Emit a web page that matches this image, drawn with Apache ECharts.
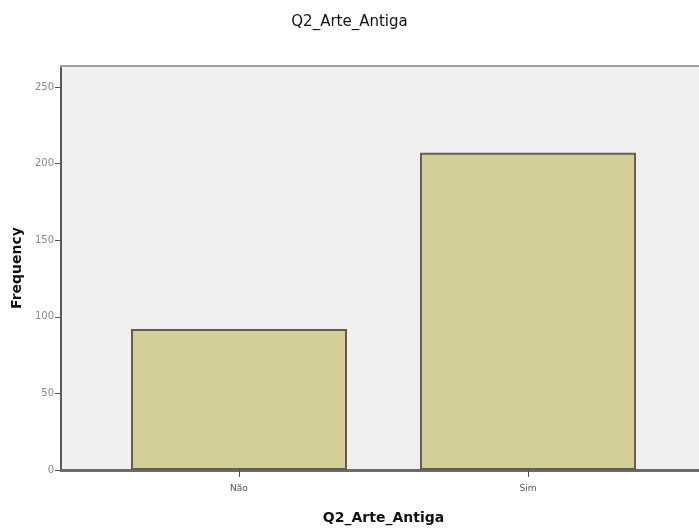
<!DOCTYPE html>
<html><head><meta charset="utf-8">
<script src="https://cdn.jsdelivr.net/npm/echarts@6/dist/echarts.min.js"></script>
<style>html,body{margin:0;padding:0;background:#fff}#c{width:699px;height:531px}</style>
</head><body><div id="c"></div>
<script>
const categories = ['Não', 'Sim'];
const frequencies = [92, 207];
const yTicks = [0, 50, 100, 150, 200, 250];
const chartTitle = 'Q2_Arte_Antiga';
const xTitle = 'Q2_Arte_Antiga';
const yTitle = 'Frequency';

const F = '"DejaVu Sans", Verdana, sans-serif';
const yMax = 263.7;
const chart = echarts.init(document.getElementById('c'));
chart.setOption({
  animation: false,
  title: { text: chartTitle, left: 'center', top: 10,
    textStyle: { fontFamily: F, fontSize: 15, fontWeight: 'normal', color: '#111' } },
  grid: [
    { left: 61, right: 0, top: 66, bottom: 61, show: true, backgroundColor: '#f0f0f0', borderWidth: 0 },
    { left: 94.5, right: 26.5, top: 66, bottom: 61 }
  ],
  xAxis: [
    { gridIndex: 0, type: 'category', data: categories, position: 'bottom',
      axisLine: { show: true, lineStyle: { color: '#6a6a6a', width: 3 } },
      axisTick: { show: false }, axisLabel: { show: false }, splitLine: { show: false } },
    { gridIndex: 0, type: 'category', data: categories, position: 'top',
      axisLine: { show: true, lineStyle: { color: '#a0a0a0', width: 2 } },
      axisTick: { show: false }, axisLabel: { show: false } },
    { gridIndex: 1, type: 'category', data: categories, position: 'bottom',
      axisLine: { show: false },
      axisTick: { show: true, alignWithLabel: true, length: 7, lineStyle: { color: '#555' } },
      axisLabel: { fontFamily: F, fontSize: 9, color: '#555', margin: 14 },
      name: xTitle, nameLocation: 'middle', nameGap: 41,
      nameTextStyle: { fontFamily: F, fontSize: 14, fontWeight: 'bold', color: '#111' } }
  ],
  yAxis: [
    { gridIndex: 0, type: 'value', min: 0, max: yMax, interval: 50,
      axisLine: { show: true, lineStyle: { color: '#5a5a5a', width: 2 } },
      axisTick: { show: true, length: 6, customValues: yTicks, lineStyle: { color: '#555' } },
      axisLabel: { fontFamily: F, fontSize: 10, color: '#888', margin: 7, customValues: yTicks },
      splitLine: { show: false },
      name: yTitle, nameLocation: 'middle', nameGap: 36, nameRotate: 90,
      nameTextStyle: { fontFamily: F, fontSize: 14, fontWeight: 'bold', color: '#111' } },
    { gridIndex: 1, type: 'value', min: 0, max: yMax, show: false, splitLine: { show: false } }
  ],
  series: [{
    type: 'bar', xAxisIndex: 2, yAxisIndex: 1, data: frequencies, barWidth: 216,
    itemStyle: { color: '#d3ce97', borderColor: '#5e5e52', borderWidth: 2 }
  }]
});
</script></body></html>
